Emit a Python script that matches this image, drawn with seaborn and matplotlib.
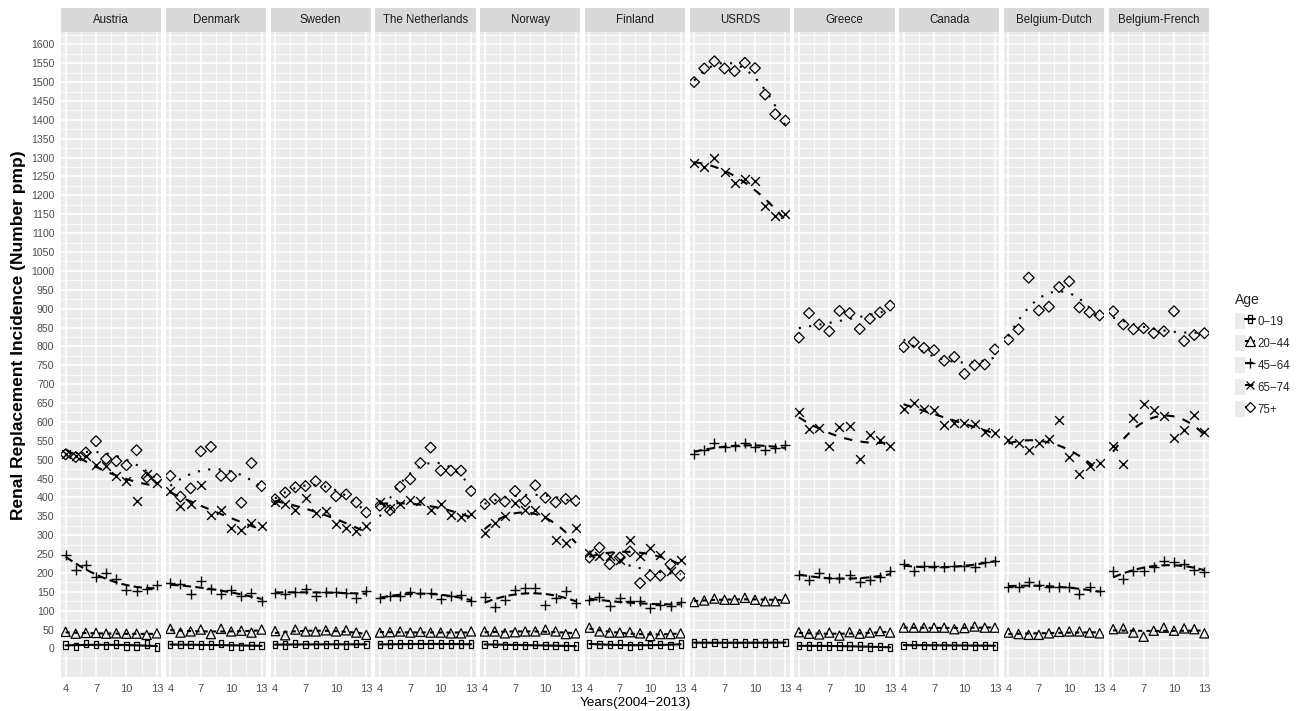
import numpy as np
import pandas as pd
import matplotlib
matplotlib.use("Agg")
import matplotlib.pyplot as plt
from matplotlib.patches import Rectangle, Patch
from matplotlib.lines import Line2D
from matplotlib.path import Path
from matplotlib.legend_handler import HandlerTuple
import seaborn as sns

# =========================
# DATA
# =========================
countries = ["Austria", "Denmark", "Sweden", "The Netherlands", "Norway", "Finland",
             "USRDS", "Greece", "Canada", "Belgium-Dutch", "Belgium-French"]
years = [4, 5, 6, 7, 8, 9, 10, 11, 12, 13]
age_groups = ["0\u221219", "20\u221244", "45\u221264", "65\u221274", "75+"]

age_0_19 = [
    [9, 5, 13, 10, 8, 11, 6, 7, 12, 4],
    [10, 10, 10, 9, 9, 13, 6, 5, 8, 8],
    [10, 9, 13, 10, 10, 10, 12, 9, 13, 10],
    [10, 12, 11, 12, 11, 12, 12, 11, 12, 11],
    [10, 13, 8, 8, 8, 10, 8, 8, 6, 6],
    [12, 10, 10, 12, 6, 8, 10, 10, 8, 12],
    [15, 15, 16, 15, 15, 15, 15, 15, 15, 16],
    [8, 6, 6, 6, 6, 6, 6, 4, 5, 2],
    [8, 10, 8, 8, 8, 8, 8, 7, 8, 7],
    None,
    None,
]
age_20_44 = [
    [44, 39, 41, 41, 39, 40, 39, 39, 36, 40],
    [52, 42, 45, 50, 38, 52, 45, 47, 42, 50],
    [46, 35, 50, 45, 45, 48, 45, 48, 42, 36],
    [42, 43, 45, 42, 44, 42, 42, 40, 40, 45],
    [45, 45, 40, 43, 45, 45, 50, 45, 38, 40],
    [55, 45, 42, 42, 43, 40, 33, 38, 38, 40],
    [123, 127, 132, 129, 129, 134, 129, 125, 125, 132],
    [43, 39, 37, 42, 34, 43, 39, 42, 46, 42],
    [55, 55, 55, 55, 55, 51, 54, 58, 55, 55],
    [42, 38, 36, 36, 40, 44, 45, 45, 42, 40],
    [51, 53, 42, 31, 47, 55, 47, 53, 51, 40],
]
age_45_64 = [
    [248, 208, 221, 188, 201, 183, 156, 153, 157, 168],
    [172, 170, 143, 178, 158, 143, 156, 138, 147, 125],
    [148, 145, 150, 158, 140, 150, 150, 148, 133, 153],
    [134, 138, 140, 149, 147, 147, 131, 138, 142, 125],
    [135, 109, 127, 156, 160, 160, 114, 134, 151, 120],
    [129, 135, 112, 134, 125, 125, 107, 116, 112, 123],
    [515, 525, 543, 534, 536, 543, 534, 525, 532, 539],
    [195, 182, 200, 187, 187, 194, 176, 180, 189, 205],
    [224, 206, 219, 219, 215, 219, 219, 216, 228, 232],
    [162, 163, 175, 168, 163, 162, 163, 144, 163, 151],
    [204, 184, 204, 204, 215, 232, 228, 224, 208, 203],
]
age_65_74 = [
    [515, 510, 510, 487, 483, 457, 444, 390, 463, 437],
    [417, 377, 383, 434, 353, 367, 320, 314, 333, 325],
    [388, 382, 367, 398, 358, 363, 330, 320, 310, 323],
    [389, 371, 382, 393, 390, 367, 382, 353, 349, 355],
    [305, 331, 352, 384, 367, 367, 347, 286, 279, 320],
    [252, 245, 244, 235, 286, 244, 265, 248, 204, 235],
    [1285, 1275, 1298, 1261, 1232, 1243, 1239, 1171, 1144, 1151],
    [627, 581, 585, 536, 586, 589, 501, 565, 552, 536],
    [635, 650, 635, 632, 593, 597, 597, 595, 573, 571],
    [553, 544, 526, 544, 555, 606, 507, 462, 482, 491],
    [535, 489, 609, 648, 632, 616, 558, 578, 619, 573],
]
age_75 = [
    [514, 507, 519, 549, 502, 496, 485, 525, 453, 449],
    [457, 402, 424, 522, 534, 457, 456, 386, 491, 430],
    [395, 413, 427, 430, 443, 428, 403, 408, 387, 360],
    [378, 366, 428, 448, 491, 532, 471, 471, 471, 417],
    [382, 396, 389, 417, 390, 432, 399, 387, 396, 391],
    [241, 267, 223, 241, 257, 173, 193, 193, 223, 193],
    [1500, 1536, 1555, 1536, 1529, 1551, 1537, 1467, 1415, 1398],
    [823, 888, 858, 840, 894, 888, 846, 873, 890, 908],
    [798, 811, 796, 790, 762, 772, 727, 750, 752, 792],
    [818, 845, 982, 895, 905, 957, 972, 903, 890, 882],
    [893, 858, 845, 848, 835, 840, 893, 814, 830, 835],
]

# =========================
# LONG FORMAT
# =========================
rows = []
for age, block in zip(age_groups, [age_0_19, age_20_44, age_45_64, age_65_74, age_75]):
    for country, series in zip(countries, block):
        if series is None:
            continue
        for yr, v in zip(years, series):
            rows.append((country, age, yr, v))
df = pd.DataFrame(rows, columns=["Country", "Age", "Year", "Rate"])

# =========================
# STYLE
# =========================
sns.set_theme(style="darkgrid", rc={
    "axes.facecolor": "#EBEBEB",
    "grid.color": "white",
    "axes.edgecolor": "none",
})
plt.rcParams["font.family"] = ["Liberation Sans", "DejaVu Sans"]

rect_marker = Path([(-0.28, -0.5), (0.28, -0.5), (0.28, 0.5), (-0.28, 0.5), (-0.28, -0.5)],
                   [Path.MOVETO, Path.LINETO, Path.LINETO, Path.LINETO, Path.CLOSEPOLY])
age_style = {
    "0\u221219": dict(marker=rect_marker, s=30, open=True, ls="-"),
    "20\u221244": dict(marker="^", s=44, open=True, ls=(0, (2, 2))),
    "45\u221264": dict(marker="+", s=60, open=False, ls=(0, (4, 2))),
    "65\u221274": dict(marker="x", s=40, open=False, ls=(0, (4, 4))),
    "75+": dict(marker="D", s=30, open=True, ls=(0, (1, 4))),
}

W, H = 1303, 711
g = sns.FacetGrid(df, col="Country", col_order=countries, sharex=True, sharey=True,
                  height=6, aspect=0.2, despine=False)
fig = g.figure
fig.set_size_inches(W / 100, H / 100)
fig.subplots_adjust(left=61 / W, right=1209 / W, top=1 - 32 / H, bottom=1 - 677 / H,
                    wspace=0.043)

allv = df["Rate"]
lo = allv.min() - 0.05 * (allv.max() - allv.min())
hi = allv.max() + 0.05 * (allv.max() - allv.min())

for ax, country in zip(g.axes.flat, countries):
    for age in age_groups:
        sub = df[(df["Country"] == country) & (df["Age"] == age)]
        if sub.empty:
            continue
        st = age_style[age]
        if st["open"]:
            sns.scatterplot(data=sub, x="Year", y="Rate", ax=ax, marker=st["marker"],
                            s=st["s"], facecolor="none", edgecolor="black",
                            linewidth=0.9, legend=False, zorder=3)
        else:
            sns.scatterplot(data=sub, x="Year", y="Rate", ax=ax, marker=st["marker"],
                            s=st["s"], color="black", linewidth=1.0, legend=False,
                            zorder=3)
        # quadratic trend line
        sns.regplot(data=sub, x="Year", y="Rate", ax=ax, order=2, ci=None,
                    scatter=False, truncate=True,
                    line_kws=dict(color="black", lw=1.5, linestyle=st["ls"], zorder=4))

    ax.set_xlim(3.55, 13.45)
    ax.set_ylim(lo, hi)
    ax.set_xticks([4, 7, 10, 13])
    ax.set_xticks([5.5, 8.5, 11.5], minor=True)
    ax.set_yticks(np.arange(0, 1601, 50))
    ax.set_yticks(np.arange(-25, 1626, 50), minor=True)
    ax.grid(which="major", color="white", lw=1.1)
    ax.grid(which="minor", color="white", lw=0.55)
    ax.tick_params(which="minor", length=0)
    ax.tick_params(axis="x", which="major", length=3.3, width=0.8, color="#333333",
                   labelsize=8, labelcolor="#4D4D4D", pad=1.5)
    ax.tick_params(axis="y", which="major", length=3.3, width=0.8, color="#333333",
                   labelsize=7.6, labelcolor="#4D4D4D", pad=1.5)
    ax.set_xlabel("")
    ax.set_ylabel("")
    ax.set_title("")
    for sp in ax.spines.values():
        sp.set_visible(False)
    if ax is not g.axes.flat[0]:
        ax.tick_params(axis="y", left=False, labelleft=False)

    # strip
    pos = ax.get_position()
    fig.add_artist(Rectangle((pos.x0, pos.y1), pos.width, 23.5 / H,
                             transform=fig.transFigure, facecolor="#D9D9D9",
                             edgecolor="none"))
    fig.text(pos.x0 + pos.width / 2, pos.y1 + 11.8 / H, country, ha="center",
             va="center", fontsize=8.3, color="#1A1A1A")

fig.text(19 / W, 1 - 335 / H, "Renal Replacement Incidence (Number pmp)", rotation=90,
         ha="center", va="center", fontsize=12.5, fontweight="bold", color="black")
fig.text(635 / W, 1 - 703 / H, "Years(2004\u22122013)", ha="center", va="center",
         fontsize=9.7, color="black")

# legend
handles = []
for age in age_groups:
    st = age_style[age]
    ms = np.sqrt(st["s"])
    ln = Line2D([], [], color="black", lw=1.5, linestyle=st["ls"], marker=st["marker"],
                markersize=ms, markerfacecolor="none", markeredgecolor="black",
                markeredgewidth=0.9)
    handles.append((Patch(facecolor="#EBEBEB", edgecolor="none"), ln))
leg = fig.legend(handles, age_groups, title="Age", loc="upper left",
                 bbox_to_anchor=(1227 / W, 1 - 285 / H), frameon=False,
                 handler_map={tuple: HandlerTuple(ndivide=None, pad=0)},
                 fontsize=8.3, title_fontsize=10, handlelength=1.75, handleheight=1.7,
                 labelspacing=0.55, handletextpad=0.2, borderpad=0.2, alignment="left")

fig.savefig("out.png", dpi=100)
